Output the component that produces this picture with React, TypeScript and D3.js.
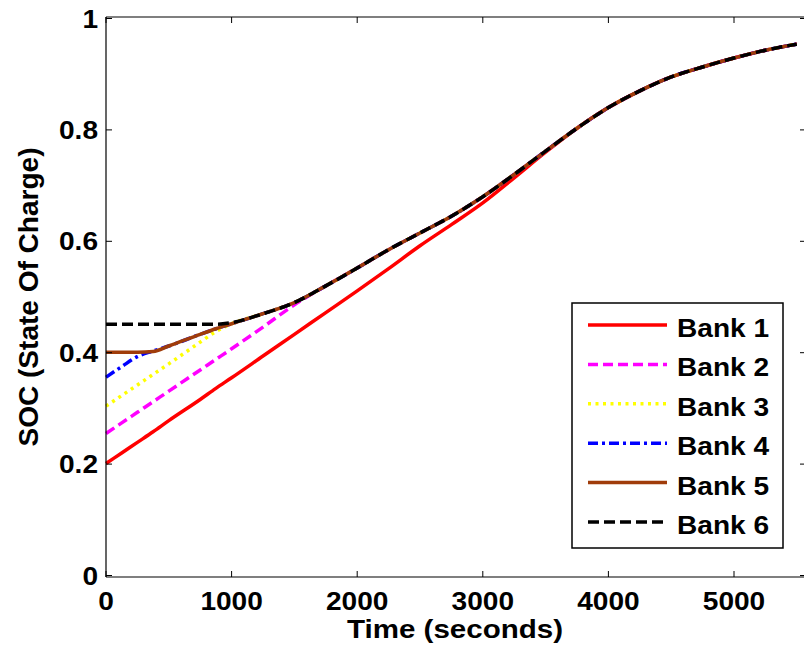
import React from "react";
import * as d3 from "d3";

const time = [0, 125, 250, 375, 500, 750, 875, 1000, 1250, 1500, 1750, 2000, 2250, 2500, 2750, 3000, 3250, 3500, 3750, 4000, 4250, 4500, 4750, 5000, 5250, 5500];

const bank1 = [0.201, 0.220, 0.239, 0.258, 0.278, 0.316, 0.336, 0.355, 0.394, 0.433, 0.472, 0.511, 0.551, 0.592, 0.630, 0.669, 0.714, 0.760, 0.803, 0.840, 0.870, 0.895, 0.913, 0.929, 0.943, 0.954];
const bank2 = [0.255, 0.274, 0.293, 0.312, 0.331, 0.369, 0.388, 0.407, 0.446, 0.486, 0.520, 0.552, 0.585, 0.615, 0.645, 0.680, 0.720, 0.762, 0.803, 0.840, 0.870, 0.895, 0.913, 0.929, 0.943, 0.954];
const bank3 = [0.304, 0.323, 0.342, 0.361, 0.380, 0.419, 0.438, 0.452, 0.470, 0.490, 0.520, 0.552, 0.585, 0.615, 0.645, 0.680, 0.720, 0.762, 0.803, 0.840, 0.870, 0.895, 0.913, 0.929, 0.943, 0.954];
const bank4 = [0.356, 0.375, 0.393, 0.403, 0.412, 0.433, 0.443, 0.452, 0.470, 0.490, 0.520, 0.552, 0.585, 0.615, 0.645, 0.680, 0.720, 0.762, 0.803, 0.840, 0.870, 0.895, 0.913, 0.929, 0.943, 0.954];
const bank5 = [0.401, 0.401, 0.401, 0.402, 0.412, 0.433, 0.443, 0.452, 0.470, 0.490, 0.520, 0.552, 0.585, 0.615, 0.645, 0.680, 0.720, 0.762, 0.803, 0.840, 0.870, 0.895, 0.913, 0.929, 0.943, 0.954];
const bank6 = [0.451, 0.451, 0.451, 0.451, 0.451, 0.451, 0.451, 0.454, 0.470, 0.490, 0.520, 0.552, 0.585, 0.615, 0.645, 0.680, 0.720, 0.762, 0.803, 0.840, 0.870, 0.895, 0.913, 0.929, 0.943, 0.954];

const seriesNames = ["Bank 1", "Bank 2", "Bank 3", "Bank 4", "Bank 5", "Bank 6"];
const seriesValues = [bank1, bank2, bank3, bank4, bank5, bank6];
const seriesColors = ["#ff0000", "#ff00ff", "#ffff00", "#0000ff", "#a03c0a", "#000000"];
const seriesDash = ["none", "10,5", "3,4.5", "10,4,3,4", "none", "11,5"];

const xTicks = [0, 1000, 2000, 3000, 4000, 5000];
const yTicks = [0, 0.2, 0.4, 0.6, 0.8, 1];
const yTickLabels = ["0", "0.2", "0.4", "0.6", "0.8", "1"];

const FONT = "'Liberation Sans', Arial, sans-serif";

export default function App() {
  const left = 106, right = 806, top = 17, bottom = 577;
  const x = d3.scaleLinear().domain([0, 5000]).range([106, 734]);
  const y = d3.scaleLinear().domain([0, 1]).range([575.5, 18.5]);
  const line = d3
    .line<number>()
    .x((_, i) => x(time[i]))
    .y((v) => y(v))
    .curve(d3.curveMonotoneX);

  const legX = 572, legY = 303, legW = 211, legH = 245;
  const rowY0 = 325, rowStep = 39.4;

  return (
    <svg width={804} height={655} style={{ position: "absolute", left: 0, top: 0, background: "#fff" }}>
      <rect x={0} y={0} width={804} height={655} fill="#fff" />
      {/* data lines */}
      {seriesValues.map((vals, k) => (
        <path
          key={k}
          d={line(vals) || ""}
          fill="none"
          stroke={seriesColors[k]}
          strokeWidth={3.5}
          strokeDasharray={seriesDash[k]}
        />
      ))}
      {/* axes box */}
      <line x1={left} y1={top} x2={left} y2={bottom} stroke="#000" strokeWidth={1.2} />
      <line x1={left} y1={bottom} x2={right} y2={bottom} stroke="#000" strokeWidth={1.2} />
      <line x1={left} y1={top} x2={right} y2={top} stroke="#000" strokeWidth={1.2} />
      {/* ticks */}
      {xTicks.map((t) => (
        <g key={"xt" + t}>
          <line x1={x(t)} x2={x(t)} y1={bottom} y2={bottom - 6} stroke="#000" strokeWidth={1} />
          <line x1={x(t)} x2={x(t)} y1={top} y2={top + 6} stroke="#000" strokeWidth={1} />
          <text
            transform={`translate(${x(t)},610) scale(1.08,1)`}
            textAnchor="middle"
            fontFamily={FONT}
            fontWeight="bold"
            fontSize={26}
          >
            {String(t)}
          </text>
        </g>
      ))}
      {yTicks.map((v, i) => (
        <g key={"yt" + i}>
          <line x1={left} x2={left + 6} y1={y(v)} y2={y(v)} stroke="#000" strokeWidth={1} />
          <line x1={right - 6} x2={right} y1={y(v)} y2={y(v)} stroke="#000" strokeWidth={1} />
          <text
            transform={`translate(98,${y(v) + 9}) scale(1.08,1)`}
            textAnchor="end"
            fontFamily={FONT}
            fontWeight="bold"
            fontSize={26}
          >
            {yTickLabels[i]}
          </text>
        </g>
      ))}
      {/* axis titles */}
      <text
        x={455}
        y={638}
        textAnchor="middle"
        fontFamily={FONT}
        fontWeight="bold"
        fontSize={26}
        textLength={216}
        lengthAdjust="spacingAndGlyphs"
      >
        Time (seconds)
      </text>
      <text
        transform="translate(37.5,297) rotate(-90)"
        textAnchor="middle"
        fontFamily={FONT}
        fontWeight="bold"
        fontSize={28}
        textLength={299}
        lengthAdjust="spacingAndGlyphs"
      >
        SOC (State Of Charge)
      </text>
      {/* legend */}
      <rect x={legX} y={legY} width={legW} height={legH} fill="#fff" stroke="#000" strokeWidth={1.5} />
      {seriesNames.map((name, k) => {
        const ry = rowY0 + k * rowStep;
        return (
          <g key={"lg" + k}>
            <line
              x1={588}
              x2={667}
              y1={ry}
              y2={ry}
              stroke={seriesColors[k]}
              strokeWidth={3.5}
              strokeDasharray={seriesDash[k]}
            />
            <text
              transform={`translate(677,${ry + 12}) scale(1.08,1)`}
              fontFamily={FONT}
              fontWeight="bold"
              fontSize={26}
            >
              {name}
            </text>
          </g>
        );
      })}
    </svg>
  );
}
